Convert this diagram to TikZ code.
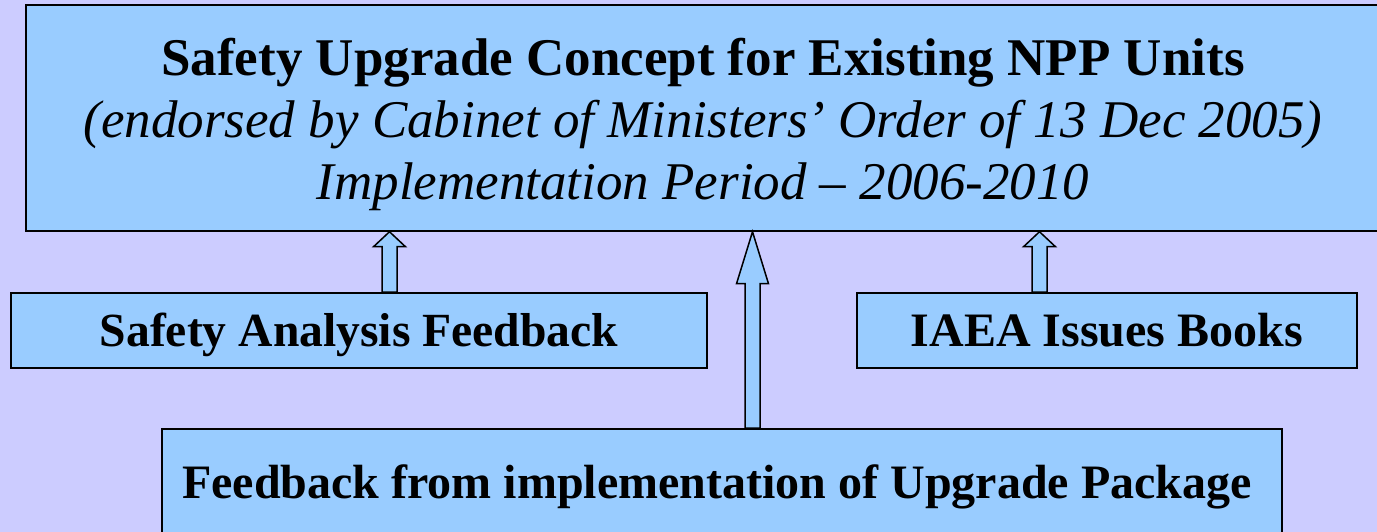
\documentclass[tikz,border=0pt]{standalone}
\usepackage{fontspec}
\setmainfont{Liberation Serif}
\usepackage{tikz}
\usetikzlibrary{calc}

\definecolor{backlilac}{RGB}{204,204,255}
\definecolor{boxblue}{RGB}{153,204,255}

% fat hollow arrow from a base point up to the edge of a box
\newcommand{\blockarrow}[3]{%
  \draw[fatarrow] let \p1=(#1), \p2=(#2) in
    (\x1-7.5pt,\y1) -- (\x1-7.5pt,\y2-#3) -- (\x1-16pt,\y2-#3) -- (\x1,\y2)
    -- (\x1+16pt,\y2-#3) -- (\x1+7.5pt,\y2-#3) -- (\x1+7.5pt,\y1) -- cycle;}

\begin{document}
\begin{tikzpicture}[x=1pt,y=1pt,
  box/.style={rectangle,draw=black,line width=1.5pt,fill=boxblue,inner sep=0pt},
  fatarrow/.style={draw=black,line width=1.5pt,fill=boxblue,line join=miter}]
\fill[backlilac] (0,0) rectangle (1377,532);
\useasboundingbox (0,0) rectangle (1377,532);

\node[box,minimum width=1354pt,minimum height=226pt,align=center,
      font=\fontsize{53}{62}\selectfont] (concept) at (703,414)
  {\rule{0pt}{50pt}\textbf{Safety Upgrade Concept for Existing NPP Units}\\
   \textit{(endorsed by Cabinet of Ministers’ Order of 13 Dec 2005)}\\
   \textit{Implementation Period – 2006-2010}};

\node[box,minimum width=696pt,minimum height=75pt,text height=33pt,text depth=0pt,
      font=\fontsize{47.6}{56}\selectfont\bfseries] (analysis) at (359,201.5)
  {Safety Analysis Feedback};
\node[box,minimum width=500pt,minimum height=75pt,text height=33pt,text depth=0pt,
      font=\fontsize{48}{56}\selectfont\bfseries] (iaea) at (1107,201.5)
  {IAEA Issues Books};
\node[box,minimum width=1120pt,minimum height=108pt,text height=32pt,text depth=0pt,
      font=\fontsize{48}{56}\selectfont\bfseries] (package) at (722,49)
  {Feedback from implementation of Upgrade Package\hspace*{10pt}};

\blockarrow{[xshift=30.5pt]analysis.north}{concept.south}{15pt}
\blockarrow{[xshift=-67.5pt]iaea.north}{concept.south}{15pt}
\blockarrow{[xshift=30.5pt]package.north}{concept.south}{52pt}
\end{tikzpicture}
\end{document}
